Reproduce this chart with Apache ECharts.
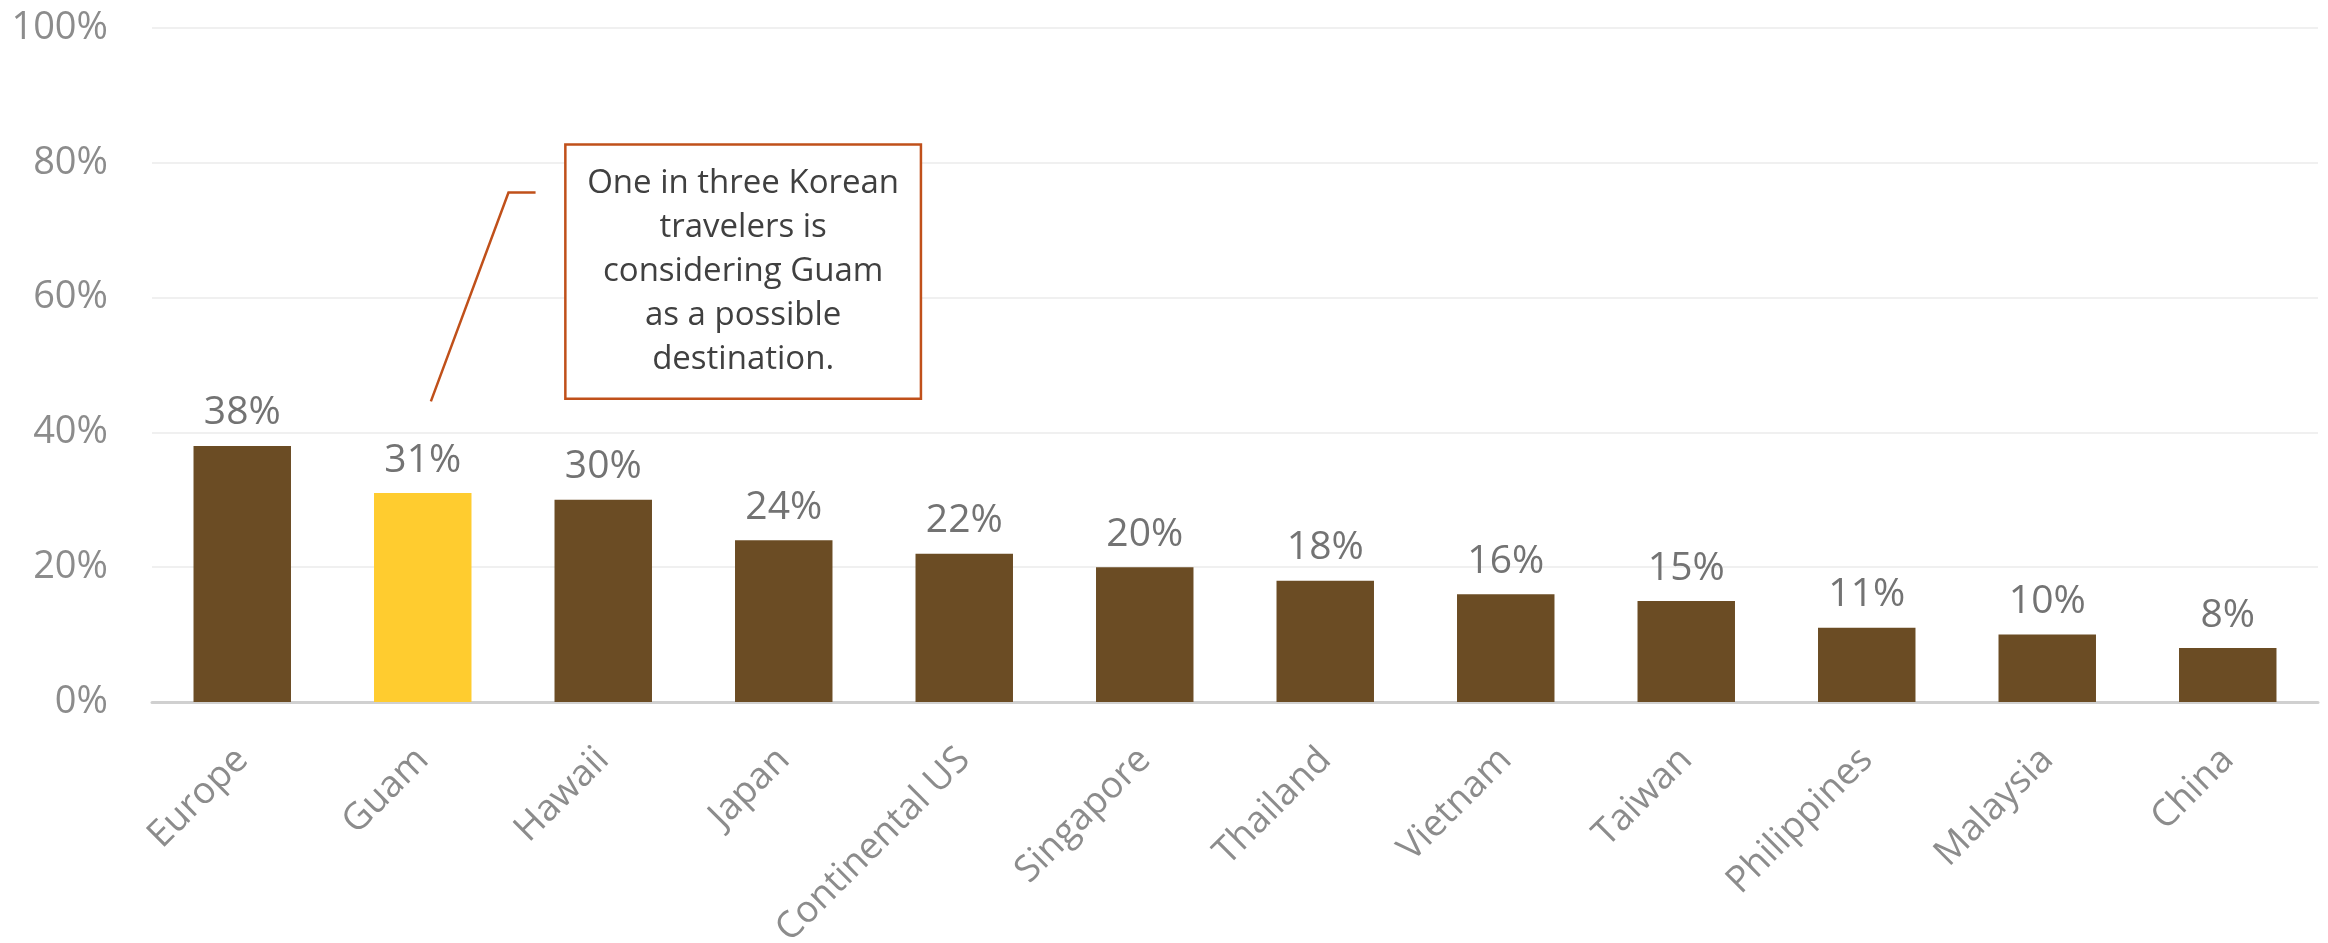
<!DOCTYPE html>
<html>
<head>
<meta charset="utf-8">
<script src="https://cdn.jsdelivr.net/npm/echarts@6/dist/echarts.min.js"></script>
<style>
  html, body { margin: 0; padding: 0; background: #ffffff; }
  #chart { width: 2328px; height: 943px; }
</style>
</head>
<body>
<div id="chart"></div>
<script>
// Destinations considered by Korean travelers (share of respondents, %)
const categories = ['Europe', 'Guam', 'Hawaii', 'Japan', 'Continental US', 'Singapore',
  'Thailand', 'Vietnam', 'Taiwan', 'Philippines', 'Malaysia', 'China'];
const shares = [38, 31, 30, 24, 22, 20, 18, 16, 15, 11, 10, 8];
const highlight = 'Guam';
const yTicks = { min: 0, max: 100, interval: 20 };
const calloutText = 'One in three Korean\ntravelers is\nconsidering Guam\nas a possible\ndestination.';

const BROWN = '#6b4c24';
const GOLD = '#ffcc2f';
const CALLOUT = '#c0501a';
const FONT = '"Open Sans", "Noto Sans", sans-serif';

const chart = echarts.init(document.getElementById('chart'), null, { renderer: 'canvas' });

const option = {
  animation: false,
  backgroundColor: '#ffffff',
  grid: {
    left: 152, right: 10, top: 28, bottom: 241,
    containLabel: false,
    outerBoundsMode: 'none'
  },
  xAxis: {
    type: 'category',
    data: categories,
    axisLine: { lineStyle: { color: '#d0d0d0', width: 3 } },
    axisTick: { show: false },
    axisLabel: {
      rotate: 45,
      margin: 52,
      color: '#8c8c8c',
      fontFamily: FONT,
      fontSize: 37,
      interval: 0
    }
  },
  yAxis: {
    type: 'value',
    min: yTicks.min,
    max: yTicks.max,
    interval: yTicks.interval,
    axisLine: { show: false },
    axisTick: { show: false },
    splitLine: { lineStyle: { color: '#f0f0f0', width: 2 } },
    axisLabel: {
      formatter: '{value}%',
      margin: 44,
      color: '#8c8c8c',
      fontFamily: FONT,
      fontSize: 38
    }
  },
  series: [{
    type: 'bar',
    barWidth: '54%',
    data: shares.map((v, i) => ({
      value: v,
      itemStyle: { color: categories[i] === highlight ? GOLD : BROWN }
    })),
    label: {
      show: true,
      position: 'top',
      distance: 13,
      formatter: '{c}%',
      color: '#737373',
      fontFamily: FONT,
      fontSize: 39
    }
  }]
};

chart.setOption(option);

// Callout box and leader line, placed relative to the highlighted bar
const gi = categories.indexOf(highlight);
const pGuam = chart.convertToPixel({ gridIndex: 0 }, [gi, 0]);
const pNext = chart.convertToPixel({ gridIndex: 0 }, [gi + 1, 0]);
const band = pNext[0] - pGuam[0];
const yAt = v => chart.convertToPixel({ yAxisIndex: 0 }, v);

const leadStart = [pGuam[0] + band * 0.045, yAt(44.6)];
const leadElbow = [pGuam[0] + band * 0.475, yAt(75.6)];
const leadEnd = [pGuam[0] + band * 0.625, yAt(75.6)];

const boxLeft = pGuam[0] + band * 0.79;
const boxRight = pGuam[0] + band * 2.76;
const boxTop = yAt(82.7);
const boxBottom = yAt(45.0);

chart.setOption({
  graphic: [
    {
      type: 'polyline',
      shape: { points: [leadStart, leadElbow, leadEnd] },
      style: { stroke: CALLOUT, lineWidth: 2.5, fill: null },
      z: 10
    },
    {
      type: 'rect',
      shape: { x: boxLeft, y: boxTop, width: boxRight - boxLeft, height: boxBottom - boxTop },
      style: { fill: '#ffffff', stroke: CALLOUT, lineWidth: 2.5 },
      z: 10
    },
    {
      type: 'text',
      x: (boxLeft + boxRight) / 2,
      y: (boxTop + boxBottom) / 2,
      style: {
        text: calloutText,
        fill: '#404040',
        font: '33px ' + FONT,
        lineHeight: 44,
        align: 'center',
        verticalAlign: 'middle'
      },
      z: 11
    }
  ]
});
</script>
</body>
</html>
